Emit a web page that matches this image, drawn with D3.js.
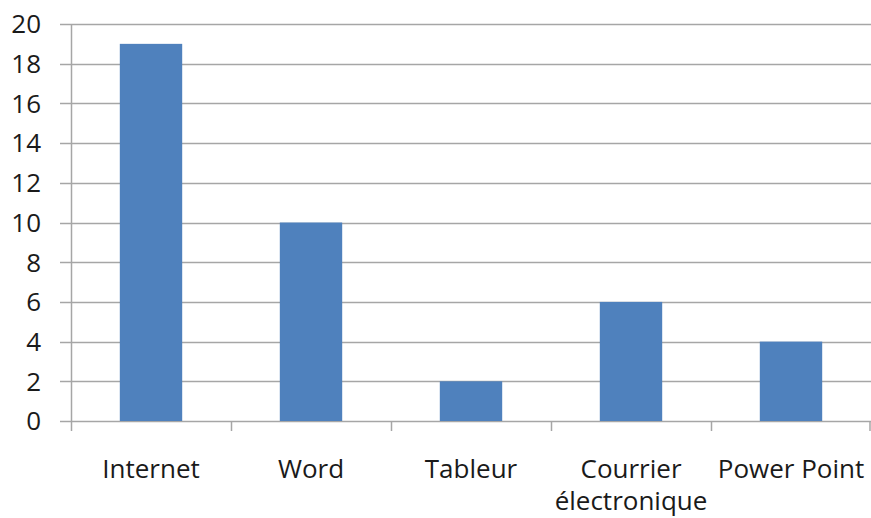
<!DOCTYPE html>
<html>
<head>
<meta charset="utf-8">
<script src="https://cdn.jsdelivr.net/npm/d3@7"></script>
<style>
  body { margin: 0; background: #fff; }
  text { font-family: "Open Sans", sans-serif; fill: #1a1a1a; }
</style>
</head>
<body>
<div id="vis"></div>
<script>
var categories = ["Internet", "Word", "Tableur", "Courrier électronique", "Power Point"];
var labelLines = [["Internet"], ["Word"], ["Tableur"], ["Courrier", "électronique"], ["Power Point"]];
var values = [19, 10, 2, 6, 4];
var yTicks = [0, 2, 4, 6, 8, 10, 12, 14, 16, 18, 20];

var margin = {top: 24, right: 0, bottom: 97, left: 71},
	width = 871 - margin.left - margin.right,
	height = 518 - margin.top - margin.bottom;

var x = d3.scaleBand()
			.domain(categories)
			.range([0, width])
			.padding(0);
var y = d3.scaleLinear()
			.domain([0, 20])
			.range([height, 0]);

var svg = d3.select("#vis").append("svg")
	.attr("width", width + margin.left + margin.right)
	.attr("height", height + margin.top + margin.bottom)
.append("g")
	.attr("transform", "translate(" + margin.left + "," + margin.top + ")");

// gridlines
svg.selectAll(".grid")
	.data(yTicks)
	.enter().append("line")
		.attr("x1", -11)
		.attr("x2", width)
		.attr("y1", function(d){return Math.round(y(d)) + 0.5;})
		.attr("y2", function(d){return Math.round(y(d)) + 0.5;})
		.attr("stroke", "#a6a6a6")
		.attr("stroke-width", 1.5);

// bars
var bw = x.bandwidth() * 0.39;
svg.selectAll(".bar")
	.data(values)
	.enter().append("rect")
		.attr("class", "bar")
		.attr("fill", "#4f81bd")
		.attr("x", function(d, i){return x(categories[i]) + (x.bandwidth() - bw) / 2;})
		.attr("width", bw)
		.attr("y", function(d){return y(d);})
		.attr("height", function(d){return height - y(d);});

// y axis
svg.append("line")
	.attr("x1", 0.5).attr("x2", 0.5)
	.attr("y1", 0).attr("y2", height)
	.attr("stroke", "#a6a6a6").attr("stroke-width", 1.5);

svg.selectAll(".ylab")
	.data(yTicks)
	.enter().append("text")
		.attr("x", -30)
		.attr("y", function(d){return y(d);})
		.attr("dy", "0.36em")
		.attr("text-anchor", "end")
		.style("font-size", "26px")
		.text(function(d){return d;});

// x axis ticks
var edges = categories.map(function(c){return x(c);}).concat([width]);
svg.selectAll(".xtick")
	.data(edges)
	.enter().append("line")
		.attr("x1", function(d){return Math.min(Math.round(d) + 0.5, width - 1);})
		.attr("x2", function(d){return Math.min(Math.round(d) + 0.5, width - 1);})
		.attr("y1", height)
		.attr("y2", height + 10)
		.attr("stroke", "#a6a6a6").attr("stroke-width", 1.5);

var xl = svg.selectAll(".xlab")
	.data(labelLines)
	.enter().append("text")
		.attr("text-anchor", "middle")
		.attr("transform", function(d, i){return "translate(" + (x(categories[i]) + x.bandwidth() / 2) + "," + (height + 57) + ")";})
		.style("font-size", "26px");
xl.selectAll("tspan")
	.data(function(d){return d;})
	.enter().append("tspan")
		.attr("x", 0)
		.attr("dy", function(d, i){return i === 0 ? 0 : 32;})
		.text(function(d){return d;});
</script>
</body>
</html>
